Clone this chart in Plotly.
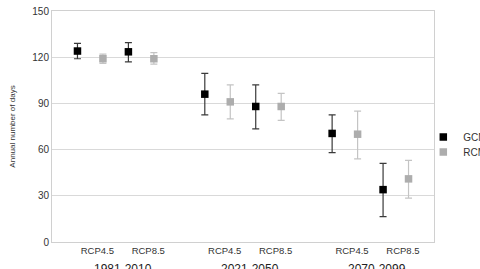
import plotly.graph_objects as go

periods = ["1981-2010", "2021-2050", "2070-2099"]
scenarios = ["RCP4.5", "RCP8.5"]

gcm_mean = [124, 123.5, 96, 88, 70.5, 34]
gcm_hi = [129, 129.5, 109.5, 102, 82.5, 51]
gcm_lo = [119, 117, 82.5, 73.5, 58, 16.5]

rcm_mean = [119, 119, 91, 88, 70, 41]
rcm_hi = [122, 123, 102, 96.5, 85, 53]
rcm_lo = [116, 115.5, 80, 79, 54, 28.5]

yticks = [0, 30, 60, 90, 120, 150]

FONT = "Liberation Sans, Arial, sans-serif"

# layout positions (units)
base = [g * 5 + s * 2 for g in range(len(periods)) for s in range(len(scenarios))]
x_gcm = base
x_rcm = [b + 1 for b in base]
label_pos = [b + 0.78 for b in base]
labels = [s for _ in periods for s in scenarios]
period_pos = [g * 5 + 1.78 for g in range(len(periods))]

fig = go.Figure()
fig.add_trace(go.Scatter(
    x=x_gcm, y=gcm_mean, mode="markers", name="GCM", legend="legend",
    marker=dict(symbol="square", size=7.5, color="#000000"),
    error_y=dict(type="data", symmetric=False,
                 array=[h - m for h, m in zip(gcm_hi, gcm_mean)],
                 arrayminus=[m - l for m, l in zip(gcm_mean, gcm_lo)],
                 color="#3a3a3a", thickness=1.2, width=3.5),
))
fig.add_trace(go.Scatter(
    x=x_rcm, y=rcm_mean, mode="markers", name="RCM", legend="legend2",
    marker=dict(symbol="square", size=7.5, color="#adadad"),
    error_y=dict(type="data", symmetric=False,
                 array=[h - m for h, m in zip(rcm_hi, rcm_mean)],
                 arrayminus=[m - l for m, l in zip(rcm_mean, rcm_lo)],
                 color="#c4c4c4", thickness=1.2, width=3.5),
))

for p, t in zip(period_pos, periods):
    fig.add_annotation(x=p, y=-0.08, xref="x", yref="paper", text=t,
                       showarrow=False, yanchor="top",
                       font=dict(family=FONT, size=12, color="#222222"))

legend_common = dict(x=0.972, xanchor="left", yanchor="middle",
                     font=dict(family=FONT, size=10, color="#333333"),
                     itemwidth=30, borderwidth=0, bgcolor="rgba(0,0,0,0)")

fig.update_layout(
    width=480, height=269,
    margin=dict(l=52, r=46, t=11, b=27, autoexpand=False),
    paper_bgcolor="white", plot_bgcolor="white",
    font=dict(family=FONT, size=10, color="#333333"),
    showlegend=True,
    legend=dict(y=0.4545, **legend_common),
    legend2=dict(y=0.39, **legend_common),
    xaxis=dict(range=[-1, 14], tickvals=label_pos, ticktext=labels,
               showgrid=False, zeroline=False, showline=True, mirror=True,
               linecolor="#d0d0d0", linewidth=1, ticks="",
               tickfont=dict(family=FONT, size=9.5, color="#333333")),
    yaxis=dict(range=[0, 150], tickvals=yticks, showgrid=True,
               gridcolor="#d9d9d9", gridwidth=1, zeroline=False,
               showline=True, mirror=True, linecolor="#d0d0d0", linewidth=1,
               ticks="", tickfont=dict(family=FONT, size=10, color="#333333"),
               title=dict(text="Annual number of days", standoff=15,
                          font=dict(family=FONT, size=8, color="#333333"))),
)

fig.write_html("out.html")
